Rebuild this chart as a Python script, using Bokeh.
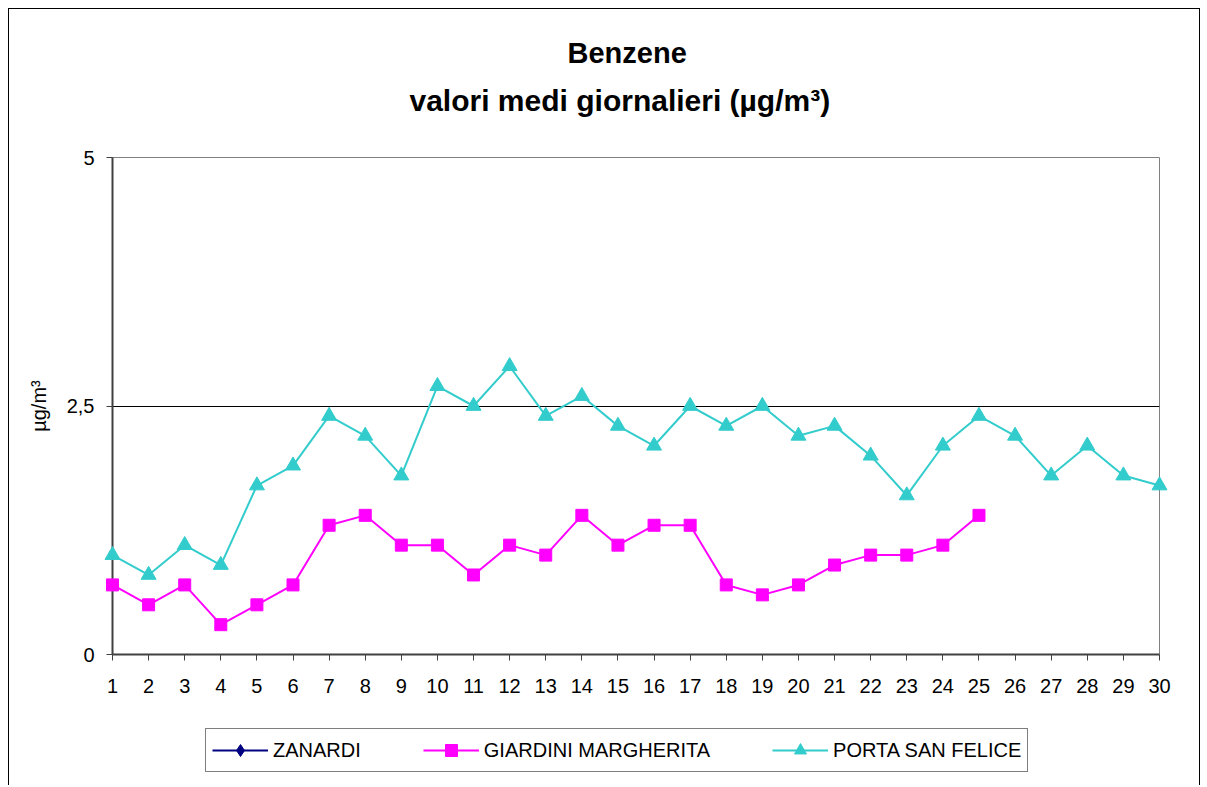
from bokeh.plotting import figure
from bokeh.layouts import column
from bokeh.models import Range1d, FixedTicker, Legend, LegendItem, Title
from bokeh.embed import file_html
from bokeh.resources import INLINE

# ---- data ----
days = list(range(1, 31))
zanardi = [None] * len(days)          # no data reported for ZANARDI
giardini_days = list(range(1, 26))
giardini = [0.7, 0.5, 0.7, 0.3, 0.5, 0.7, 1.3, 1.4, 1.1, 1.1, 0.8, 1.1, 1.0, 1.4, 1.1,
            1.3, 1.3, 0.7, 0.6, 0.7, 0.9, 1.0, 1.0, 1.1, 1.4]
porta_days = list(range(1, 31))
porta = [1.0, 0.8, 1.1, 0.9, 1.7, 1.9, 2.4, 2.2, 1.8, 2.7, 2.5, 2.9, 2.4, 2.6, 2.3,
         2.1, 2.5, 2.3, 2.5, 2.2, 2.3, 2.0, 1.6, 2.1, 2.4, 2.2, 1.8, 2.1, 1.8, 1.7]
y_ticks = [0, 2.5, 5]
y_tick_labels = ["0", "2,5", "5"]
series_names = ["ZANARDI", "GIARDINI MARGHERITA", "PORTA SAN FELICE"]
series_colors = ["#000080", "#FF00FF", "#33CCCC"]
series_markers = ["diamond", "square", "triangle"]
title_line1 = "Benzene"
title_line2 = "valori medi giornalieri (µg/m³)"
y_label = "µg/m³"

FONT = "Liberation Sans"
nan = float("nan")
zanardi_y = [nan if v is None else v for v in zanardi]

p = figure(width=1190, height=697, output_backend="svg", toolbar_location=None,
           x_range=Range1d(days[0], days[-1]), y_range=Range1d(y_ticks[0], y_ticks[-1]),
           min_border_left=103, min_border_right=40, min_border_top=148, min_border_bottom=52,
           background_fill_color="white", border_fill_color="white")

# titles: p.title is the outermost; above items stack outward from the frame
p.title = Title(text=title_line1, align="left", offset=455, text_font=FONT,
                text_font_size="29px", text_font_style="bold", text_color="black", standoff=13)
p.add_layout(Title(text=" ", text_font_size="1px", standoff=32), "above")
p.add_layout(Title(text=title_line2, align="left", offset=297, text_font=FONT,
                   text_font_size="30px", text_font_style="bold", text_color="black",
                   standoff=12), "above")

p.outline_line_color = "#808080"
p.outline_line_width = 1

# x axis
p.xaxis.ticker = FixedTicker(ticks=days)
p.xaxis.major_label_text_font = FONT
p.xaxis.major_label_text_font_size = "20px"
p.xaxis.major_label_text_color = "black"
p.xaxis.major_label_standoff = 18
p.xaxis.major_tick_out = 6
p.xaxis.major_tick_in = 0
p.xaxis.minor_tick_line_color = None
p.xaxis.axis_line_color = "#404040"
p.xaxis.axis_line_width = 2
p.xaxis.major_tick_line_color = "#404040"

# y axis
p.yaxis.ticker = FixedTicker(ticks=y_ticks)
p.yaxis.major_label_overrides = {t: l for t, l in zip(y_ticks, y_tick_labels)}
p.yaxis.major_label_text_font = FONT
p.yaxis.major_label_text_font_size = "20px"
p.yaxis.major_label_text_color = "black"
p.yaxis.major_label_standoff = 12
p.yaxis.major_tick_out = 6
p.yaxis.major_tick_in = 0
p.yaxis.minor_tick_line_color = None
p.yaxis.axis_line_color = "#404040"
p.yaxis.axis_line_width = 2
p.yaxis.major_tick_line_color = "#404040"
p.yaxis.axis_label = y_label
p.yaxis.axis_label_text_font = FONT
p.yaxis.axis_label_text_font_size = "20px"
p.yaxis.axis_label_text_font_style = "normal"
p.yaxis.axis_label_text_color = "black"
p.yaxis.axis_label_standoff = 14

p.xgrid.grid_line_color = None
p.ygrid.ticker = FixedTicker(ticks=[y_ticks[1]])
p.ygrid.grid_line_color = "black"
p.ygrid.grid_line_width = 1

# series
series = [(days, zanardi_y), (giardini_days, giardini), (porta_days, porta)]
sizes = [16, 12, 15]
for (xs, ys), c, m, s in zip(series, series_colors, series_markers, sizes):
    p.line(xs, ys, line_color=c, line_width=2, level="overlay")
    p.scatter(xs, ys, marker=m, size=s, color=c, level="overlay")

# ---- legend in its own strip below the chart ----
q = figure(width=1190, height=79, output_backend="svg", toolbar_location=None,
           x_range=Range1d(0, 1), y_range=Range1d(0, 1),
           x_axis_type=None, y_axis_type=None,
           min_border=0, min_border_left=0, min_border_right=0,
           min_border_top=0, min_border_bottom=0,
           background_fill_color="white", border_fill_color="white")
q.outline_line_color = None
q.xgrid.visible = False
q.ygrid.visible = False
items = []
for name, c, m, s in zip(series_names, series_colors, series_markers, sizes):
    lr = q.line([nan], [nan], line_color=c, line_width=2)
    sr = q.scatter([nan], [nan], marker=m, size=s, color=c)
    items.append(LegendItem(label=name, renderers=[lr, sr]))
legend = Legend(items=items, orientation="horizontal", location=(93, 13),
                label_text_font=FONT, label_text_font_size="20px", label_text_color="black",
                glyph_width=56, glyph_height=30, label_standoff=5, spacing=62,
                padding=6, margin=0,
                border_line_color="black", border_line_width=1,
                background_fill_color="white")
q.add_layout(legend, "center")

layout = column(p, q, spacing=0)
layout.styles = {"margin-left": "8px", "margin-top": "8px",
                 "border-left": "1px solid black", "border-top": "1px solid black",
                 "border-right": "1px solid black"}

open("out.html", "w").write(file_html(layout, INLINE))
